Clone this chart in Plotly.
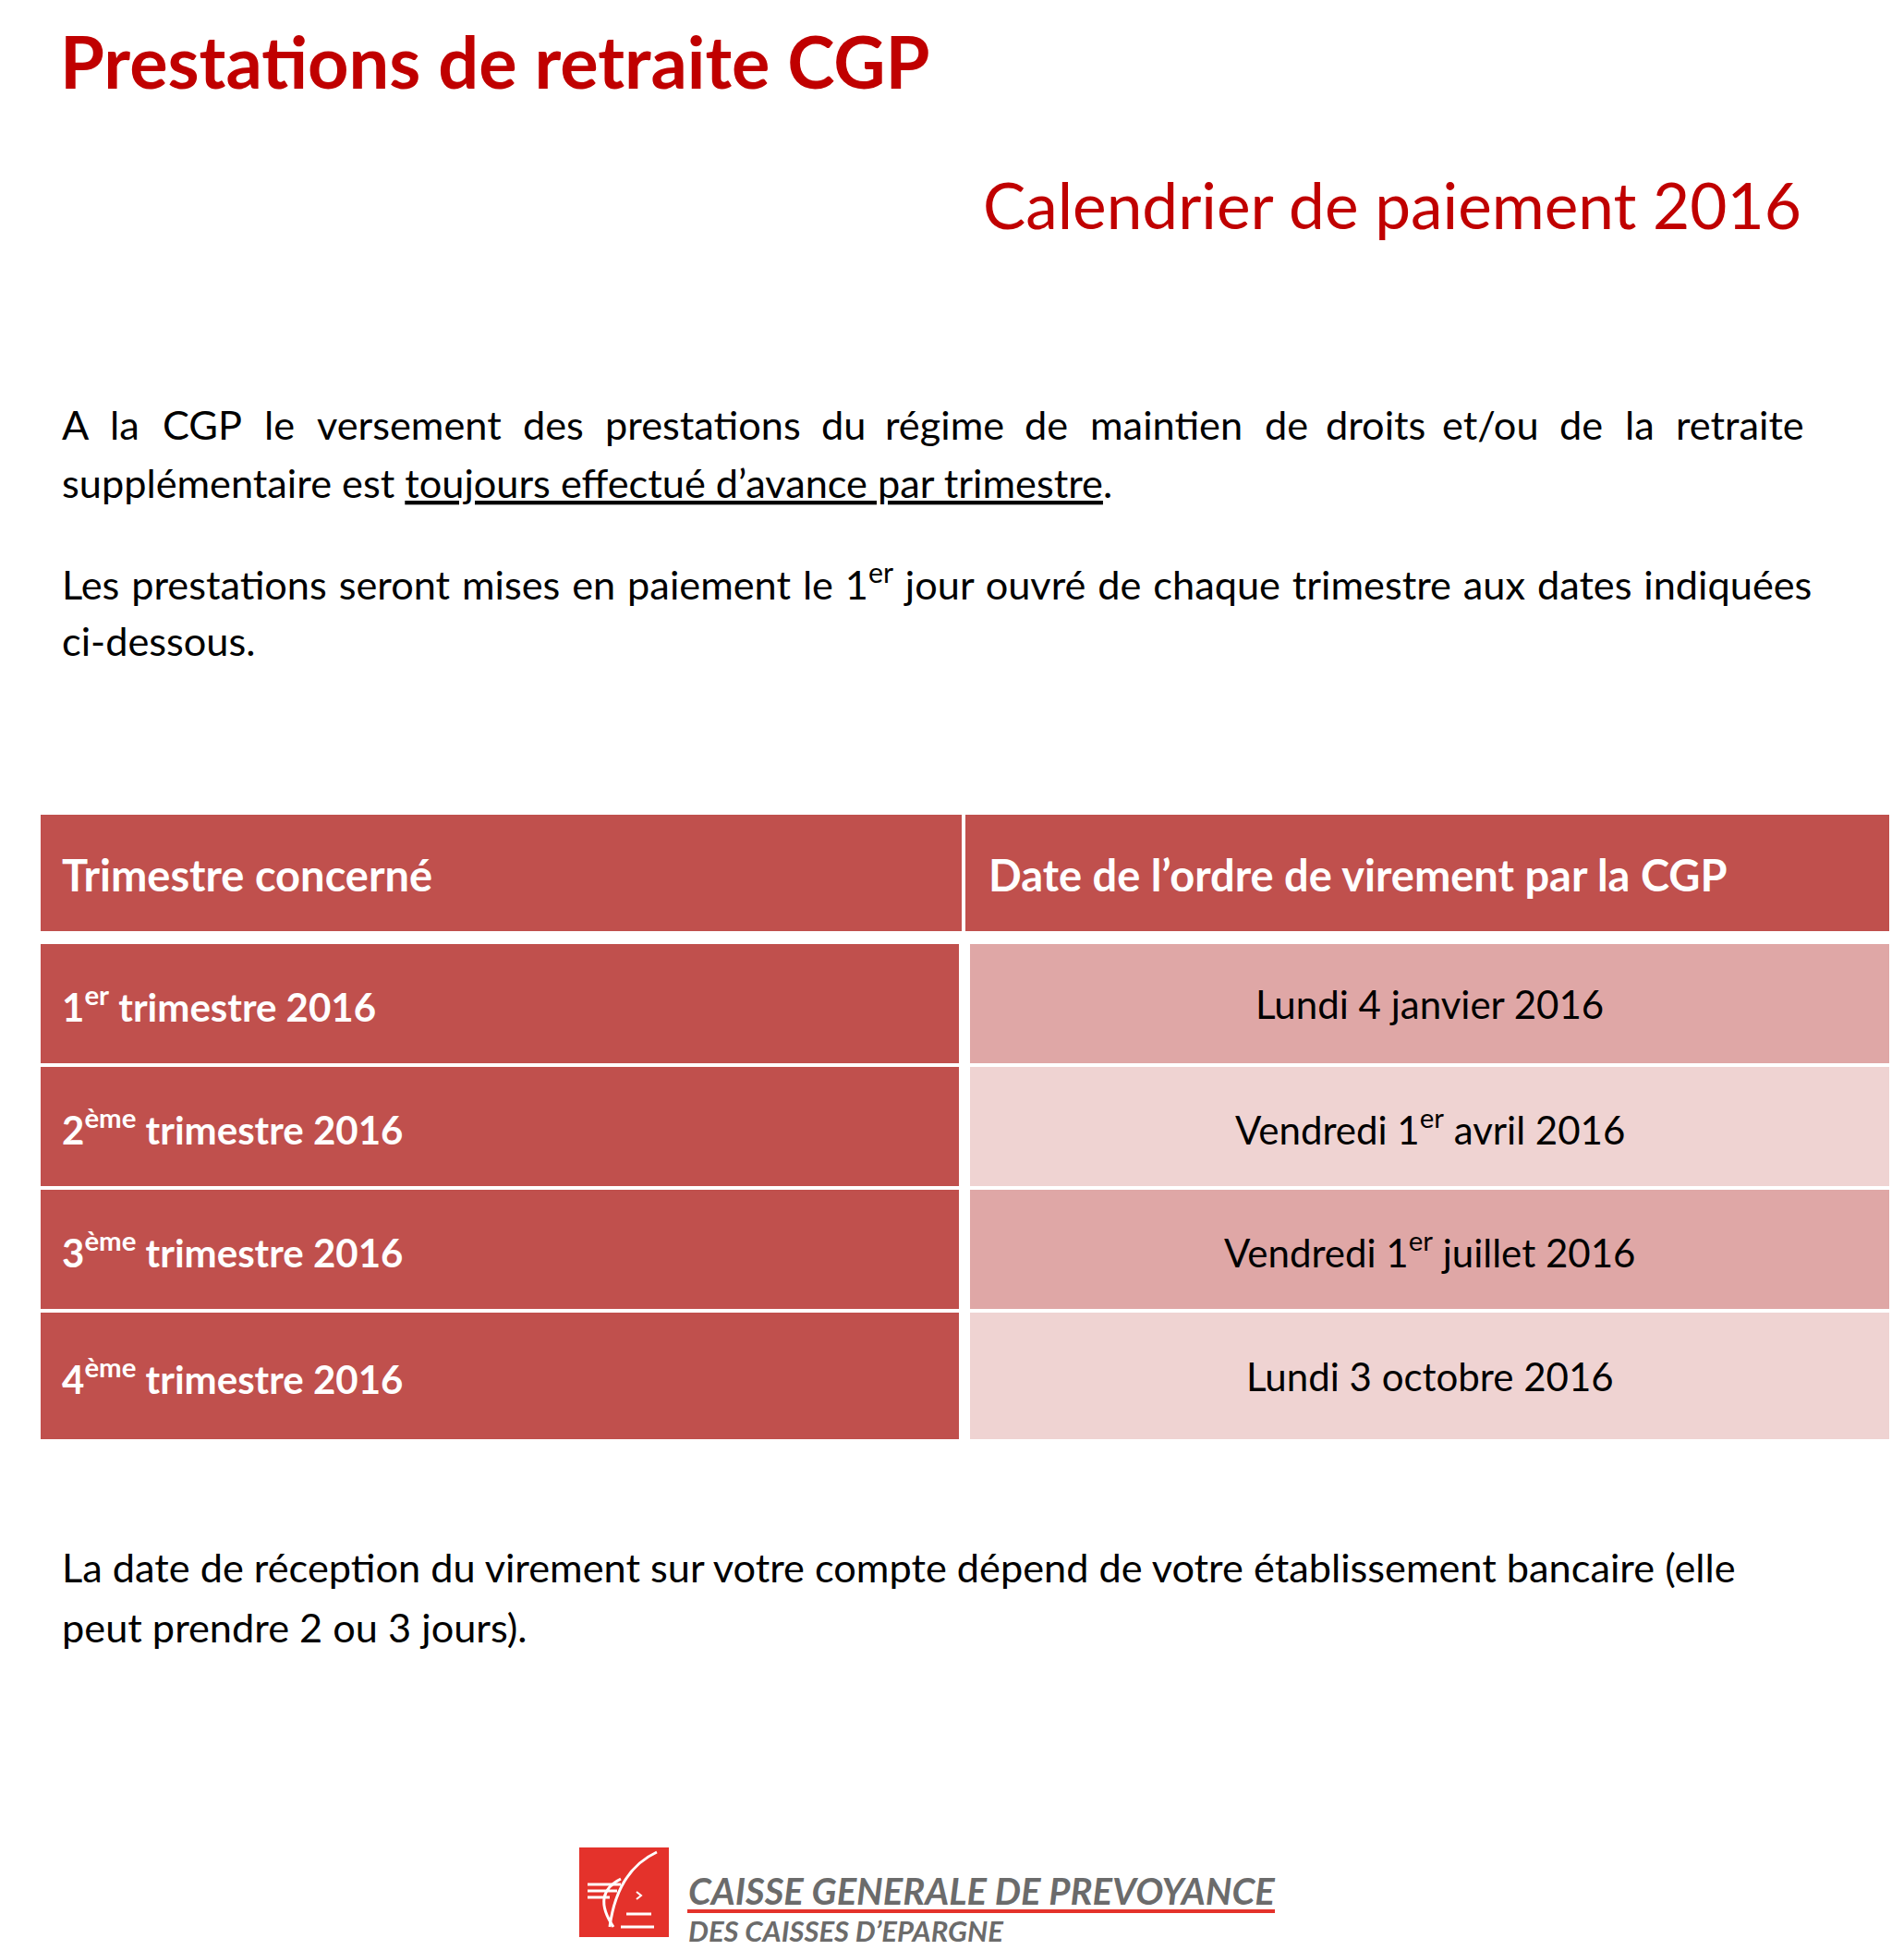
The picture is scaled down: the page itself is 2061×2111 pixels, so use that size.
import plotly.graph_objects as go

W, H = 2061, 2111
PAD = 8  # marge par défaut du <body> html
RED = "#C00000"
HEAD = "#C0504D"
BANDS = ["#DFA7A6", "#EFD3D2"]
LOGO_RED = "#E4322B"
LOGO_GREY = "#6B6B6B"
FONT = "Lato, Carlito, 'Open Sans', sans-serif"

title = "Prestations de retraite CGP"
subtitle = "Calendrier de paiement 2016"

line1_words = "A la CGP le versement des prestations du régime de maintien de droits et/ou de la retraite".split()
line2 = "supplémentaire est <u>toujours effectué d’avance par trimestre</u>."
line3 = "Les prestations seront mises en paiement le 1<sup>er</sup> jour ouvré de chaque trimestre aux dates indiquées"
line4 = "ci-dessous."

header = ["Trimestre concerné", "Date de l’ordre de virement par la CGP"]
quarters = ["1<sup>er</sup> trimestre 2016", "2<sup>ème</sup> trimestre 2016",
            "3<sup>ème</sup> trimestre 2016", "4<sup>ème</sup> trimestre 2016"]
dates = ["Lundi 4 janvier 2016", "Vendredi 1<sup>er</sup> avril 2016",
         "Vendredi 1<sup>er</sup> juillet 2016", "Lundi 3 octobre 2016"]

footer = ["La date de réception du virement sur votre compte dépend de votre établissement bancaire (elle",
          "peut prendre 2 ou 3 jours)."]

logo_line1 = "CAISSE GENERALE DE PREVOYANCE"
logo_line2 = "DES CAISSES D’EPARGNE"

# largeur approx. des mots en Lato 42px (pour justifier la 1re ligne)
W42_LINE1 = [28.3, 32.3, 83.5, 31.0, 192.5, 63.3, 203.3, 44.4, 121.2, 44.4, 160.2, 44.4, 95.6, 99.6, 43.1, 32.3, 134.6]

BODY = 43.3
TABLE_HEAD = 47
TABLE = 42
LEFT, RIGHT = 65, 1955

shapes = []
ann = []


def text(x, y, s, size, color="black", bold=False, xanchor="left", italic=False):
    if bold:
        s = "<b>" + s + "</b>"
    if italic:
        s = "<i>" + s + "</i>"
    ann.append(dict(x=x, y=y, text=s, showarrow=False, xanchor=xanchor, yanchor="middle",
                    font=dict(family=FONT, size=size, color=color)))


def justified(words, widths, y, size):
    k = size / 42
    w = [v * k for v in widths]
    gap = (RIGHT - LEFT - sum(w)) / (len(words) - 1)
    x = LEFT
    for i, word in enumerate(words):
        if i == 0:
            text(LEFT, y, word, size)
        elif i == len(words) - 1:
            text(RIGHT, y, word, size, xanchor="right")
        else:
            text(x + w[i] / 2, y, word, size, xanchor="center")
        x += w[i] + gap


# titres
text(63, 66, title, 77.5, RED, bold=True)
text(1952, 221, subtitle, 69.3, RED, xanchor="right")

# paragraphe
justified(line1_words, W42_LINE1, 459, BODY)
text(LEFT, 522, line2, BODY)
text(LEFT, 629, '<span style="word-spacing:1.8px">' + line3 + "</span>", BODY)
text(LEFT, 693, line4, BODY)

# tableau
x0, xm, x1 = 44, 1043, 2045
shapes.append(dict(type="rect", x0=x0, x1=x1, y0=882, y1=1008, fillcolor=HEAD, line_width=0, layer="below"))
shapes.append(dict(type="line", x0=xm, x1=xm, y0=882, y1=1008, line=dict(color="white", width=4)))
text(LEFT, 947, header[0], TABLE_HEAD, "white", bold=True)
text(1068, 947, header[1], TABLE_HEAD, "white", bold=True)

row_top = [1022, 1155, 1288, 1421]
row_bot = [1151, 1284, 1417, 1558]
for i in range(len(quarters)):
    shapes.append(dict(type="rect", x0=x0, x1=1038, y0=row_top[i], y1=row_bot[i],
                       fillcolor=HEAD, line_width=0, layer="below"))
    shapes.append(dict(type="rect", x0=1050, x1=x1, y0=row_top[i], y1=row_bot[i],
                       fillcolor=BANDS[i % 2], line_width=0, layer="below"))
    yc = (row_top[i] + row_bot[i]) / 2
    text(LEFT, yc, quarters[i], TABLE, "white", bold=True)
    text((1050 + x1) / 2, yc, dates[i], TABLE, xanchor="center")

# bas de page
text(LEFT, 1696, footer[0], BODY)
text(LEFT, 1761, footer[1], BODY)

# logo
shapes.append(dict(type="rect", x0=627, x1=724, y0=2000, y1=2097, fillcolor=LOGO_RED, line_width=0))
wl = dict(color="white", width=3)
shapes += [
    dict(type="path", path="M 711,2005 Q 668,2025 660,2086", line=wl),
    dict(type="path", path="M 672,2034 Q 640,2050 664,2086", line=wl),
    dict(type="line", x0=636, x1=672, y0=2040, y1=2040, line=wl),
    dict(type="line", x0=636, x1=668, y0=2047, y1=2047, line=wl),
    dict(type="line", x0=636, x1=660, y0=2054, y1=2054, line=wl),
    dict(type="path", path="M 689,2048 L 694,2052 L 689,2056", line=dict(color="white", width=2)),
    dict(type="line", x0=678, x1=705, y0=2072, y1=2072, line=wl),
    dict(type="line", x0=672, x1=708, y0=2086, y1=2086, line=wl),
    dict(type="line", x0=744, x1=1380, y0=2069, y1=2069, line=dict(color=LOGO_RED, width=4)),
]
text(743, 2047, logo_line1, 40, LOGO_GREY, bold=True, italic=True)
text(743, 2090, logo_line2, 31, LOGO_GREY, bold=True, italic=True)

fig = go.Figure()
fig.update_layout(
    width=W - PAD, height=H - PAD, margin=dict(l=0, r=0, t=0, b=0),
    paper_bgcolor="white", plot_bgcolor="white",
    xaxis=dict(range=[PAD, W], visible=False, fixedrange=True),
    yaxis=dict(range=[H, PAD], visible=False, fixedrange=True),
    shapes=shapes, annotations=ann, showlegend=False,
)
fig.write_html("out.html")
